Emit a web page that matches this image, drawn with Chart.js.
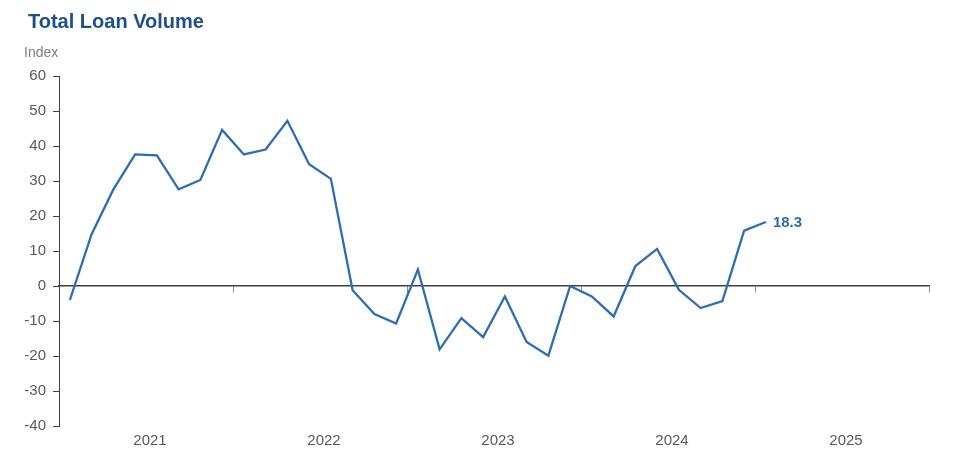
<!DOCTYPE html>
<html lang="en">
<head>
    <meta charset="UTF-8">
    <title>Total Loan Volume</title>
    <style>
        html, body { margin: 0; padding: 0; background: #fff; }
        #wrap { position: relative; width: 954px; height: 467px; font-family: "Liberation Sans", Arial, sans-serif; }
        #title { position: absolute; left: 28px; top: 10.5px; font-size: 20px; line-height: 20px; font-weight: bold; color: #1f4e8c; }
        #unit { position: absolute; left: 24px; top: 45px; font-size: 14px; line-height: 14px; color: #7f7f7f; }
    </style>
</head>
<body>
   <div id="wrap">
    <canvas id="mychart" width="954" height="467"></canvas>
    <div id="title">Total Loan Volume</div>
    <div id="unit">Index</div>
   </div>
    <script src="https://cdn.jsdelivr.net/npm/chart.js"></script>
    <script>
        // survey readings, 8 per year starting early 2021
        var loanIndex = [
            -4.0, 14.8, 27.6, 37.6, 37.3, 27.6, 30.3, 44.6,
            37.6, 39.0, 47.2, 34.8, 30.6, -1.2, -8.0, -10.7,
            4.7, -18.1, -9.2, -14.6, -3.0, -16.0, -19.9, 0.0,
            -3.0, -8.7, 5.7, 10.6, -1.1, -6.3, -4.3, 15.8,
            18.3
        ];
        var years = ['2021', '2022', '2023', '2024', '2025'];
        var yTicks = { min: -40, max: 60, step: 10 };
        var perYear = 8;

        var lineBlue = '#2c6db3';
        var axisGrey = '#404040';
        var textGrey = '#595959';

        // label for the latest reading
        var lastLabel = {
            id: 'lastLabel',
            afterDatasetsDraw(chart) {
                var pts = chart.getDatasetMeta(0).data;
                var p = pts[pts.length - 1];
                var ctx = chart.ctx;
                ctx.save();
                ctx.font = 'bold 15px "Liberation Sans", Arial, sans-serif';
                ctx.fillStyle = lineBlue;
                ctx.textAlign = 'left';
                ctx.textBaseline = 'middle';
                ctx.fillText(loanIndex[loanIndex.length - 1].toFixed(1), p.x + 7, p.y + 1);
                ctx.restore();
            }
        };

        var total = years.length * perYear;
        var points = loanIndex.map((v, i) => ({ x: i + 0.5, y: v }));

        new Chart(document.getElementById('mychart').getContext('2d'), {
            type: 'line',
            data: {
                datasets: [{
                    data: points,
                    borderColor: lineBlue,
                    borderWidth: 2.3,
                    pointRadius: 0,
                    tension: 0,
                    xAxisID: 'x',
                    yAxisID: 'y'
                }]
            },
            options: {
                responsive: false,
                animation: false,
                layout: { padding: { top: 76, right: 25, bottom: 0, left: 0 } },
                plugins: {
                    legend: { display: false },
                    tooltip: { enabled: false }
                },
                scales: {
                    y: {
                        min: yTicks.min,
                        max: yTicks.max,
                        afterFit(scale) { scale.width = 59; },
                        ticks: {
                            stepSize: yTicks.step,
                            color: textGrey,
                            padding: 7,
                            font: { family: '"Liberation Sans", Arial, sans-serif', size: 15 }
                        },
                        grid: { drawOnChartArea: false, tickLength: 6, tickColor: axisGrey },
                        border: { display: true, color: axisGrey, width: 1 }
                    },
                    x: {
                        type: 'linear',
                        position: { y: 0 },
                        min: 0,
                        max: total,
                        ticks: { display: false, stepSize: perYear },
                        grid: { drawOnChartArea: false, tickLength: 6, tickColor: '#8c8c8c' },
                        border: { display: true, color: axisGrey, width: 1.5 }
                    },
                    x2: {
                        type: 'linear',
                        position: 'bottom',
                        min: 0,
                        max: total,
                        afterFit(scale) { scale.height = 41; },
                        ticks: {
                            stepSize: perYear / 2,
                            autoSkip: false,
                            maxRotation: 0,
                            labelOffset: 4,
                            padding: 6,
                            color: textGrey,
                            font: { family: '"Liberation Sans", Arial, sans-serif', size: 15 },
                            callback: function (v) {
                                return v % perYear === perYear / 2 ? years[(v - perYear / 2) / perYear] : '';
                            }
                        },
                        grid: { display: false, drawTicks: false },
                        border: { display: false }
                    }
                }
            },
            plugins: [lastLabel]
        });
    </script>
</body>
</html>
